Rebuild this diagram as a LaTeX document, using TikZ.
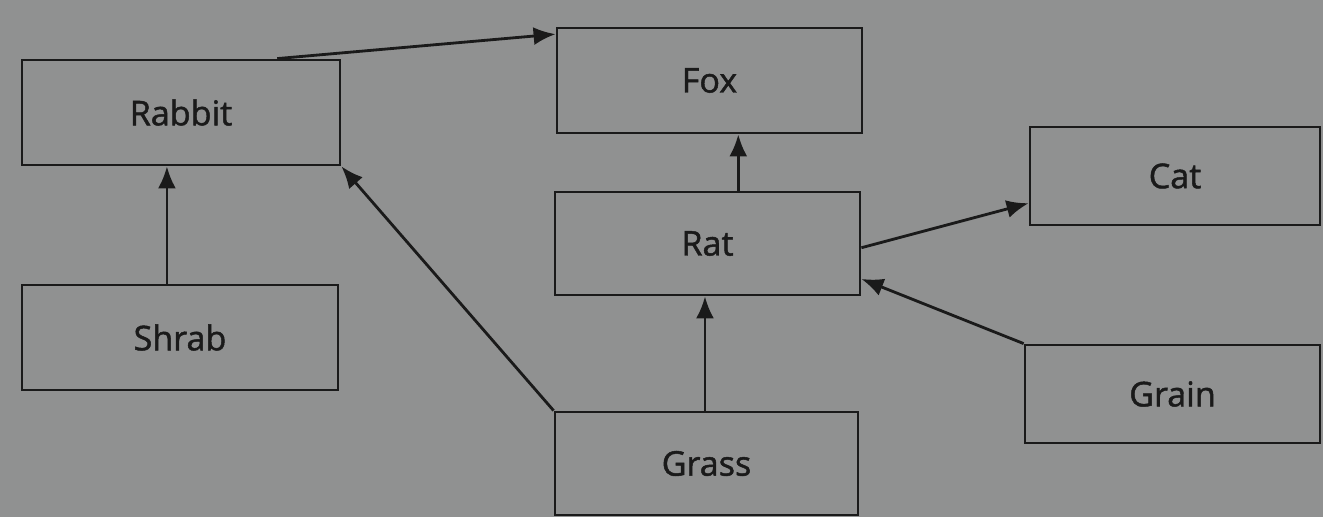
\documentclass[tikz,border=0pt]{standalone}
\usepackage{fontspec}
\setmainfont{Open Sans}
\newfontfamily\labelfont{Open Sans}[BoldFont={Open Sans}, BoldFeatures={FakeBold=1.4}]
\usetikzlibrary{arrows.meta,calc}
\definecolor{bg}{HTML}{909191}
\definecolor{ink}{HTML}{1A1A1A}
\tikzset{
  box/.style={draw=ink, line width=0.8pt, rectangle, inner sep=0pt,
    text=ink, font=\labelfont\fontsize{9.7}{12}\selectfont\bfseries},
  conn/.style={draw=ink, line width=0.8pt, -{Latex[length=2.2mm,width=1.8mm]}}
}
\begin{document}
\begin{tikzpicture}
\fill[bg] (0,0) rectangle (13.23,5.17);
\useasboundingbox (0,0) rectangle (13.23,5.17);
\node[box, minimum width=3.18cm, minimum height=1.05cm] (rabbit) at (1.81,4.045) {Rabbit};
\node[box, minimum width=3.05cm, minimum height=1.05cm] (fox) at (7.095,4.365) {Fox};
\node[box, minimum width=2.90cm, minimum height=0.98cm] (cat) at (11.75,3.41) {Cat};
\node[box, minimum width=3.05cm, minimum height=1.03cm] (rat) at (7.075,2.735) {Rat};
\node[box, minimum width=3.16cm, minimum height=1.05cm] (shrab) at (1.80,1.795) {Shrab};
\node[box, minimum width=2.95cm, minimum height=0.98cm] (grain) at (11.725,1.23) {Grain};
\node[box, minimum width=3.03cm, minimum height=1.03cm] (grass) at (7.065,0.535) {Grass};

\coordinate (rabtop) at ($(rabbit.north west)!0.8!(rabbit.north east)$);
\coordinate (foxin) at ($(fox.north west)!0.07!(fox.south west)$);
\draw[conn] (rabtop) -- (foxin);

\coordinate (shtop) at ($(shrab.north west)!0.459!(shrab.north east)$);
\draw[conn] (shtop) -- (shtop |- rabbit.south);

\draw[conn] (grass.north west) -- (rabbit.south east);

\coordinate (rattop) at ($(rat.north west)!0.6!(rat.north east)$);
\draw[conn] (rattop) -- (rattop |- fox.south);

\coordinate (grtop) at ($(grass.north west)!0.495!(grass.north east)$);
\draw[conn] (grtop) -- (grtop |- rat.south);

\coordinate (ratout) at ($(rat.north east)!0.54!(rat.south east)$);
\coordinate (catin) at ($(cat.north west)!0.77!(cat.south west)$);
\draw[conn] (ratout) -- (catin);

\coordinate (ratin) at ($(rat.north east)!0.835!(rat.south east)$);
\draw[conn] (grain.north west) -- (ratin);
\end{tikzpicture}
\end{document}
